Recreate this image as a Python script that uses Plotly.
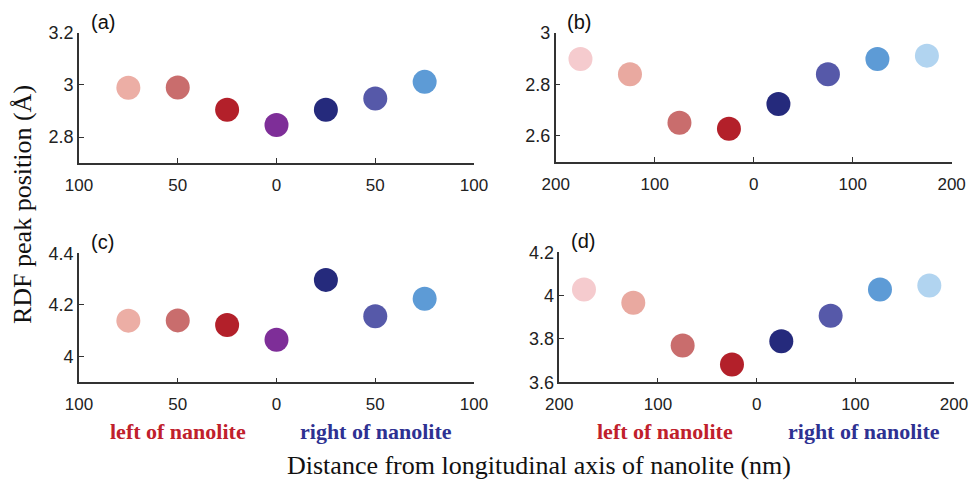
import plotly.graph_objects as go

# ---- data ----
x_small = [-75, -50, -25, 0, 25, 50, 75]
x_large = [-175, -125, -75, -25, 25, 75, 125, 175]

y_a = [2.989, 2.990, 2.905, 2.846, 2.905, 2.948, 3.012]
y_b = [2.899, 2.840, 2.651, 2.628, 2.724, 2.840, 2.899, 2.912]
y_c = [4.139, 4.140, 4.122, 4.065, 4.297, 4.156, 4.224]
y_d = [4.028, 3.967, 3.770, 3.682, 3.789, 3.907, 4.028, 4.047]

col_small = ["#ecaea5", "#c96d6d", "#b3202a", "#7e2e98", "#252a7c", "#5659a9", "#5d9bd6"]
col_large = ["#f5cbce", "#e9a9a0", "#c96d6d", "#b3202a", "#252a7c", "#5659a9", "#5d9bd6", "#b1d4f0"]

ticks_small = [-100, -50, 0, 50, 100]
ticks_small_txt = ["100", "50", "0", "50", "100"]
ticks_large = [-200, -100, 0, 100, 200]
ticks_large_txt = ["200", "100", "0", "100", "200"]

panels = [
    (x_small, y_a, col_small, [-100, 100], ticks_small, ticks_small_txt, [2.7, 3.2],
     [2.8, 3.0, 3.2], ["2.8", "3", "3.2"], [0.0815, 0.4892], [0.6639, 0.932], "(a)"),
    (x_large, y_b, col_large, [-200, 200], ticks_large, ticks_large_txt, [2.5, 3.0],
     [2.6, 2.8, 3.0], ["2.6", "2.8", "3"], [0.5735, 0.9821], [0.6666, 0.932], "(b)"),
    (x_small, y_c, col_small, [-100, 100], ticks_small, ticks_small_txt, [3.9, 4.4],
     [4.0, 4.2, 4.4], ["4", "4.2", "4.4"], [0.0815, 0.4892], [0.2118, 0.4777], "(c)"),
    (x_large, y_d, col_large, [-200, 200], ticks_large, ticks_large_txt, [3.6, 4.2],
     [3.6, 3.8, 4.0, 4.2], ["3.6", "3.8", "4", "4.2"], [0.5772, 0.9845], [0.2118, 0.4798], "(d)"),
]

fig = go.Figure()
layout = dict(
    template="none",
    width=969, height=485,
    margin=dict(l=0, r=0, t=0, b=0, pad=0),
    paper_bgcolor="white", plot_bgcolor="white",
    showlegend=False,
    font=dict(family="Liberation Sans, Arial, sans-serif", size=17, color="#222"),
)
annotations = []
for i, (xs, ys, cols, xr, xt, xtt, yr, ytv, ytt, xd, yd, lab) in enumerate(panels, start=1):
    sfx = "" if i == 1 else str(i)
    fig.add_trace(go.Scatter(
        x=xs, y=ys, mode="markers",
        marker=dict(size=24, color=cols, line=dict(width=0)),
        xaxis="x" + sfx, yaxis="y" + sfx, cliponaxis=False,
    ))
    common = dict(showline=True, linecolor="#333", linewidth=1.5, ticks="inside", ticklen=5,
                  tickwidth=1.2, tickcolor="#333", showgrid=False, zeroline=False,
                  mirror=False, automargin=False)
    layout["xaxis" + sfx] = dict(domain=xd, range=xr, anchor="y" + sfx, tickvals=xt,
                                 ticktext=xtt, ticklabelstandoff=6, **common)
    layout["yaxis" + sfx] = dict(domain=yd, range=yr, anchor="x" + sfx, tickvals=ytv,
                                 ticktext=ytt, tickfont=dict(size=18), **common)
    annotations.append(dict(
        text=lab, xref="paper", yref="paper",
        x=xd[0] + 0.010, y=yd[1] - 0.004, xanchor="left", yanchor="bottom",
        showarrow=False, font=dict(size=20, color="#111"),
    ))

serif = "Liberation Serif, Times New Roman, serif"
for xc in [177.5 / 969, 665 / 969]:
    annotations.append(dict(text="<b>left of nanolite</b>", xref="paper", yref="paper",
                            x=xc, y=1 - 431.7 / 485, xanchor="center", yanchor="middle",
                            showarrow=False, font=dict(family=serif, size=22, color="#c0202c")))
for xc in [375.8 / 969, 863.5 / 969]:
    annotations.append(dict(text="<b>right of nanolite</b>", xref="paper", yref="paper",
                            x=xc, y=1 - 431.7 / 485, xanchor="center", yanchor="middle",
                            showarrow=False, font=dict(family=serif, size=22, color="#2e3192")))

annotations.append(dict(text="Distance from longitudinal axis of nanolite (nm)",
                        xref="paper", yref="paper", x=539 / 969, y=1 - 465 / 485,
                        xanchor="center", yanchor="middle", showarrow=False,
                        font=dict(family=serif, size=26, color="#111")))
annotations.append(dict(text="RDF peak position (Å)",
                        xref="paper", yref="paper", x=22 / 969, y=1 - 205 / 485,
                        xanchor="center", yanchor="middle", showarrow=False, textangle=-90,
                        font=dict(family=serif, size=26, color="#111")))
layout["annotations"] = annotations
fig.update_layout(**layout)
fig.write_html(
    "out.html",
    config={"displayModeBar": False},
    post_script="document.body.style.margin='0';document.body.style.padding='0';"
                "document.documentElement.style.overflow='hidden';",
)
